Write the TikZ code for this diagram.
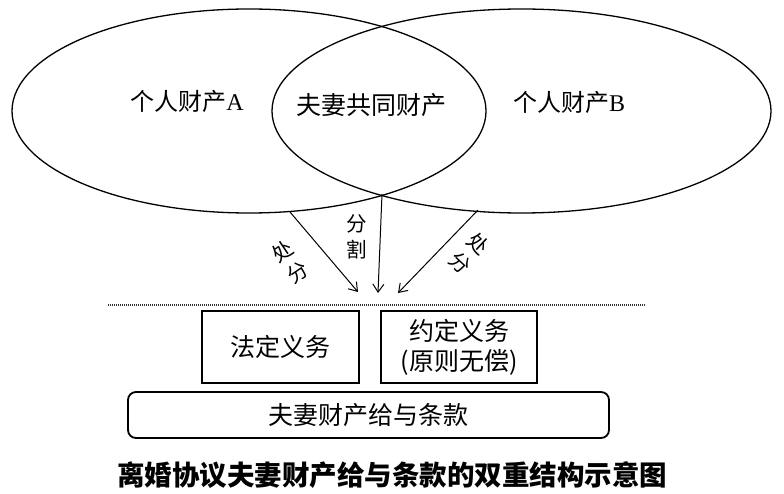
\documentclass[tikz,border=0pt]{standalone}
\usepackage{fontspec}
\setmainfont{Liberation Serif}
\newfontfamily\cjk{Noto Sans CJK SC}
\usetikzlibrary{arrows.meta, shapes.geometric}
\tikzset{
  setpart/.style = {draw, ellipse, line width=1.3pt, inner sep=0pt, outer sep=0pt,
    minimum height=204pt},
  setlabel/.style = {inner sep=0pt, font=\fontsize{24pt}{28pt}\selectfont},
  dutybox/.style = {draw, line width=2pt, inner sep=0pt, minimum width=157pt,
    minimum height=72pt, align=center, font=\cjk\fontsize{25pt}{30pt}\selectfont},
  clausebox/.style = {draw, line width=1.8pt, rounded corners=8pt, inner sep=0pt,
    minimum width=481pt, minimum height=46pt, font=\cjk\fontsize{25pt}{30pt}\selectfont},
  flow/.style = {line width=1pt, -{Straight Barb[length=8pt, width=11pt]}},
  flowlabel/.style = {align=center, inner sep=0pt, font=\cjk\fontsize{20.5pt}{26pt}\selectfont}
}

\begin{document}
\begin{tikzpicture}[x=1pt, y=-1pt]
  \useasboundingbox (0,0) rectangle (784,494);

  % the two property sets
  \node[setpart, minimum width=474pt] (ownA) at (249,111) {};
  \node[setpart, minimum width=499pt] (ownB) at (521.5,111) {};
  \node[setlabel] (labA) at (187,101) {{\cjk 个人财产}A};
  \node[setlabel, font=\cjk\fontsize{25pt}{28pt}\selectfont] (common) at (371.5,105) {夫妻共同财产};
  \node[setlabel] (labB) at (569,102) {{\cjk 个人财产}B};

  \coordinate (cutA) at (290,212);
  \coordinate (cutM) at (382,194);
  \coordinate (cutB) at (478,210);
  \coordinate (endA) at (358,292);
  \coordinate (endM) at (378,293);
  \coordinate (endB) at (398,293);

  \draw[flow] (cutA)--(endA);
  \draw[flow] (cutM)--(endM);
  \draw[flow] (cutB)--(endB);

  \node[flowlabel, rotate=34] (dispA) at (290,262) {处\\分};
  \node[flowlabel] (split) at (357,237) {分\\割};
  \node[flowlabel, rotate=-43] (dispB) at (469,253) {处\\分};

  % dividing rule
  \coordinate (ruleL) at (108,305);
  \coordinate (ruleR) at (645,305);
  \draw[line width=1.2pt, black!80, dash pattern=on 1pt off 1pt] (ruleL)--(ruleR);

  % the clause and its two duties
  \node[dutybox] (legal) at (280.5,347) {法定义务};
  \node[dutybox, minimum width=156pt] (agreed) at (459,347) {约定义务\\(原则无偿)};
  \node[clausebox] (clause) at (368.5,415) {夫妻财产给与条款};

  \node[font=\cjk\bfseries\fontsize{27.5pt}{30pt}\selectfont, inner sep=0pt] (caption) at (392,475)
    {离婚协议夫妻财产给与条款的双重结构示意图};

\end{tikzpicture}
\end{document}
